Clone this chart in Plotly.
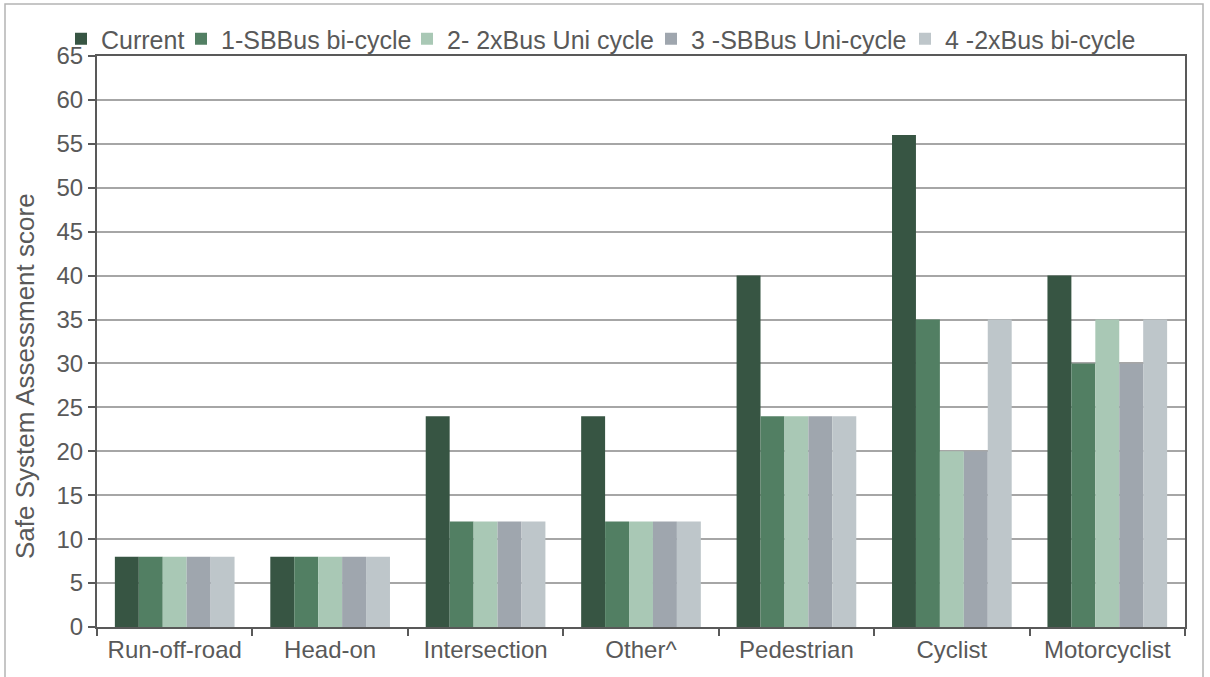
import plotly.graph_objects as go

categories = ["Run-off-road", "Head-on", "Intersection", "Other^", "Pedestrian", "Cyclist", "Motorcyclist"]
series_names = ["Current", "1-SBBus bi-cycle", "2- 2xBus Uni cycle", "3 -SBBus Uni-cycle", "4 -2xBus bi-cycle"]
current = [8, 8, 24, 24, 40, 56, 40]
sbbus_bi = [8, 8, 12, 12, 24, 35, 30]
bus2x_uni = [8, 8, 12, 12, 24, 20, 35]
sbbus_uni = [8, 8, 12, 12, 24, 20, 30]
bus2x_bi = [8, 8, 12, 12, 24, 35, 35]
y_ticks = list(range(0, 70, 5))

series_values = [current, sbbus_bi, bus2x_uni, sbbus_uni, bus2x_bi]
colors = ["#375543", "#527f63", "#a9c8b5", "#9fa6ae", "#bec6ca"]
legend_ids = ["legend", "legend2", "legend3", "legend4", "legend5"]
legend_text_x = [103, 223, 449, 693, 947]

W, H = 1210, 677
ML, MR, MT, MB = 97, 25, 56, 50
pw = W - ML - MR
ph = H - MT - MB
FONT = "Liberation Sans, Arial, sans-serif"
TXT = "#595959"

fig = go.Figure()
for name, vals, col, lid in zip(series_names, series_values, colors, legend_ids):
    fig.add_trace(go.Bar(x=categories, y=vals, name=name, marker=dict(color=col, line=dict(width=0)),
                         legend=lid))

layout_legends = {}
for lid, tx in zip(legend_ids, legend_text_x):
    layout_legends[lid] = dict(
        x=(tx - 42) / W, xref="container", xanchor="left",
        y=1 - 39 / H, yref="container", yanchor="middle",
        orientation="h", bgcolor="rgba(0,0,0,0)", borderwidth=0,
        font=dict(family=FONT, size=25, color=TXT), itemwidth=30,
    )

fig.update_layout(
    width=W, height=H,
    margin=dict(l=ML, r=MR, t=MT, b=MB, autoexpand=False),
    paper_bgcolor="white", plot_bgcolor="white",
    barmode="group", bargap=0.23, bargroupgap=0,
    font=dict(family=FONT, size=24, color=TXT),
    showlegend=True,
    **layout_legends,
)

fig.update_xaxes(
    showline=True, linecolor="#595959", linewidth=2, mirror=True,
    ticks="outside", tickson="boundaries", ticklen=7, tickwidth=2, tickcolor="#595959",
    tickfont=dict(family=FONT, size=24, color=TXT), showgrid=False, automargin=False,
)
fig.update_yaxes(
    range=[0, 65], tickvals=y_ticks, showline=True, linecolor="#595959", linewidth=2, mirror=True,
    ticks="outside", ticklen=7, tickwidth=2, tickcolor="#595959",
    tickfont=dict(family=FONT, size=24, color=TXT),
    showgrid=True, gridcolor="#a6a6a6", gridwidth=2, zeroline=False, automargin=False,
)

fig.add_annotation(
    text="Safe System Assessment score", textangle=-90,
    x=(25 - ML) / pw, y=(H - MB - 376) / ph, xref="paper", yref="paper",
    xanchor="center", yanchor="middle",
    showarrow=False, font=dict(family=FONT, size=26, color=TXT),
)

# outer chart frame
fig.add_shape(type="rect", xref="paper", yref="paper",
              x0=(5 - ML) / pw, x1=(1203 - ML) / pw,
              y0=(H - MB - 690) / ph, y1=(H - MB - 4) / ph,
              line=dict(color="#b4b4b4", width=1.5), fillcolor="rgba(0,0,0,0)", layer="below")

fig.write_html("out.html", config={"displayModeBar": False},
               post_script="document.body.style.margin='0';document.body.style.overflow='hidden';")
